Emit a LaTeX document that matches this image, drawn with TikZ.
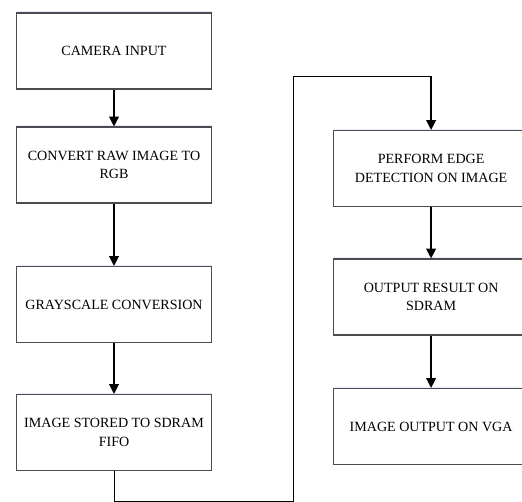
\documentclass[tikz,border=0pt]{standalone}
\usepackage{fontspec}
\setmainfont{Liberation Serif}
\usetikzlibrary{arrows.meta}
\usetikzlibrary{shadows}

\tikzset{
    box/.style={draw=black!70, line width=0.8pt, fill=white,
        minimum width=4.875cm, minimum height=1.9cm, align=center,
        font=\fontsize{10}{13}\selectfont,
        drop shadow={shadow xshift=0.4pt, shadow yshift=1.2pt, fill=blue!25, opacity=0.35}},
    arrow/.style={line width=0.9pt, -{Triangle[length=7pt, width=7pt]}},
    loopline/.style={line width=0.7pt}
}

\begin{document}
\begin{tikzpicture}[x=0.025cm, y=-0.025cm]
    \useasboundingbox (0,0) rectangle (522,502);

    % left column
    \node[box] (cam) at (114, 51) {CAMERA INPUT};
    \node[box] (rgb) at (114, 165) {CONVERT RAW IMAGE TO\\RGB};
    \node[box] (gray) at (114, 304.5) {GRAYSCALE CONVERSION};
    \node[box] (store) at (114, 432.5) {IMAGE STORED TO SDRAM\\FIFO};

    % right column
    \begin{scope}[xshift=10.775cm]
        \node[box] (edge) at (0, 168.5) {PERFORM EDGE\\DETECTION ON IMAGE};
        \node[box] (result) at (0, 297) {OUTPUT RESULT ON\\SDRAM};
        \node[box] (vga) at (0, 426.5) {IMAGE OUTPUT ON VGA};
    \end{scope}

    \draw[arrow] (cam) -- (rgb);
    \draw[arrow] (rgb) -- (gray);
    \draw[arrow] (gray) -- (store);

    \coordinate (low) at (293, 501.5);
    \coordinate (high) at (293, 76);
    \draw[loopline] (store.south) |- (low) -- (high) -- (high -| edge.north);
    \draw[arrow] (high -| edge.north) -- (edge.north);

    \draw[arrow] (edge) -- (result);
    \draw[arrow] (result) -- (vga);
\end{tikzpicture}
\end{document}
